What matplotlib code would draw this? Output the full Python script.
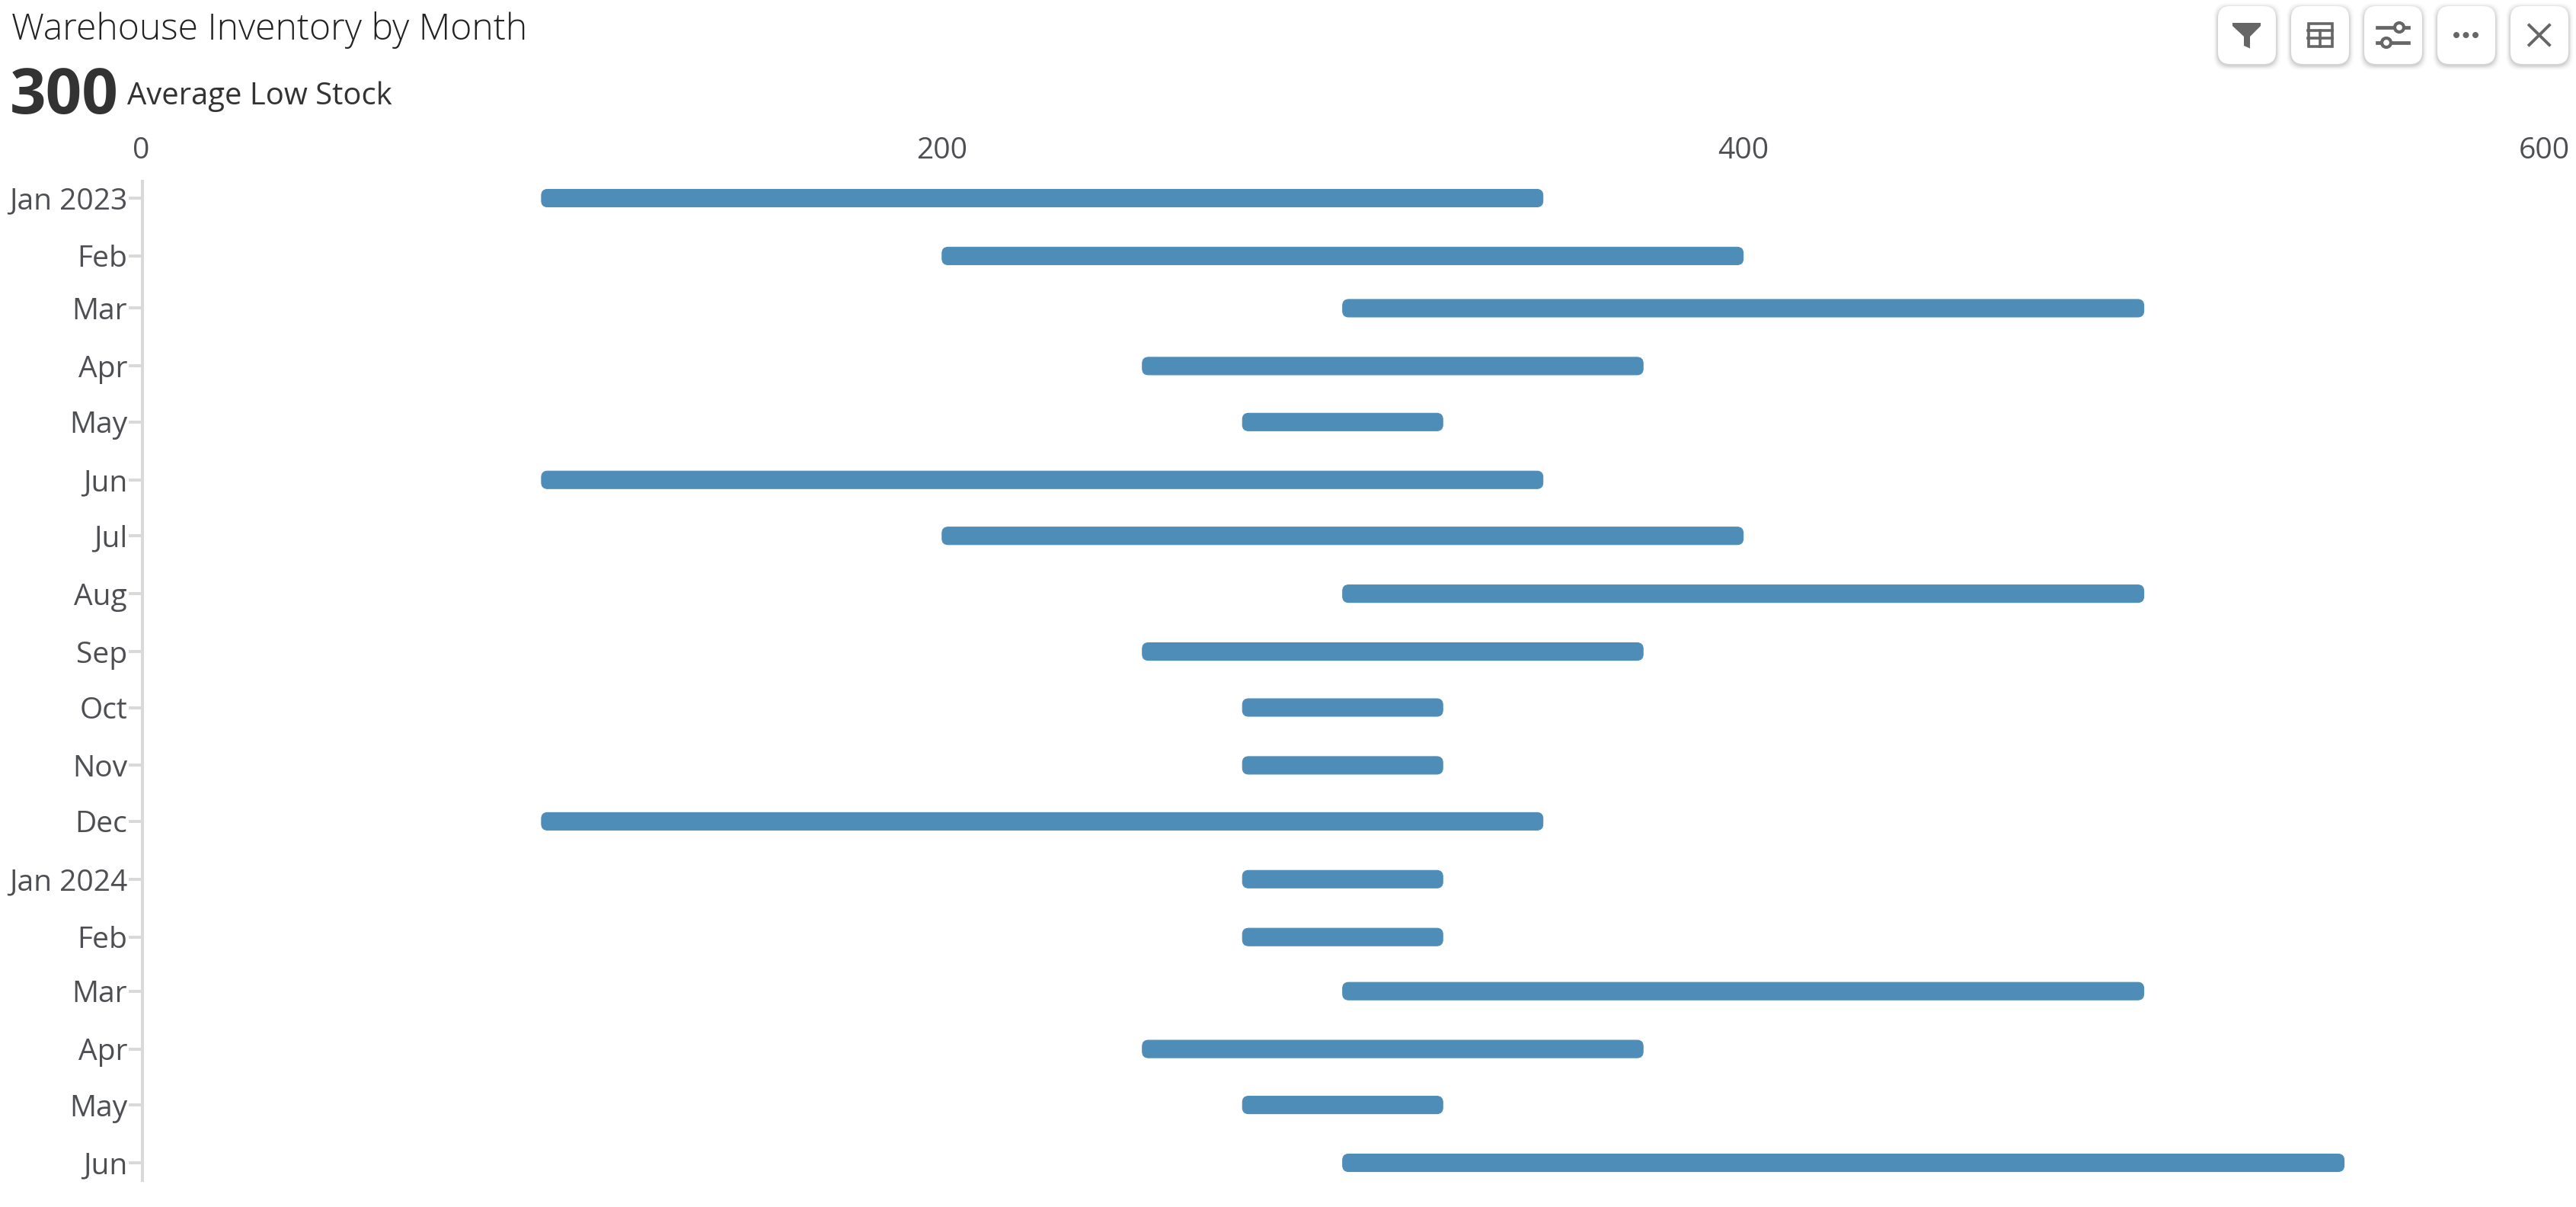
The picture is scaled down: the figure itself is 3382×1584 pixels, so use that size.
import matplotlib
matplotlib.use("Agg")
import matplotlib.pyplot as plt
import matplotlib.dates as mdates
import pandas as pd
from matplotlib.patches import FancyBboxPatch, Polygon, Rectangle, Circle

plt.rcParams['font.family'] = ['Open Sans', 'DejaVu Sans']

month_starts = ["2023-01-01", "2023-02-01", "2023-03-01", "2023-04-01", "2023-05-01", "2023-06-01",
                "2023-07-01", "2023-08-01", "2023-09-01", "2023-10-01", "2023-11-01", "2023-12-01",
                "2024-01-01", "2024-02-01", "2024-03-01", "2024-04-01", "2024-05-01", "2024-06-01"]
months = ["Jan 2023", "Feb", "Mar", "Apr", "May", "Jun", "Jul", "Aug", "Sep", "Oct", "Nov", "Dec",
          "Jan 2024", "Feb", "Mar", "Apr", "May", "Jun"]
low_stock = [100, 200, 300, 250, 275, 100, 200, 300, 250, 275, 275, 100, 275, 275, 300, 250, 275, 300]
high_stock = [350, 400, 500, 375, 325, 350, 400, 500, 375, 325, 325, 350, 325, 325, 500, 375, 325, 550]
x_ticks = [0, 200, 400, 600]

W, H = 3382, 1584
fig = plt.figure(figsize=(W / 100, H / 100), dpi=100, facecolor='white')

ax_l, ax_r, ax_t, ax_b = 185, 3340.5, 238, 1549
ax = fig.add_axes([ax_l / W, 1 - ax_b / H, (ax_r - ax_l) / W, (ax_b - ax_t) / H])
ax.set_xlim(0, 600)
dates = mdates.date2num(pd.to_datetime(month_starts))
yunit = 2.449  # pixels per day
ax.set_ylim(dates[-1] + (ax_b - 1526) / yunit, dates[0] - (260 - ax_t) / yunit)

BAR = "#4f8db9"
bar_h = 23 / yunit
xunit = (ax_r - ax_l) / 600
for d, lo, hi in zip(dates, low_stock, high_stock):
    ax.add_patch(FancyBboxPatch((lo, d - bar_h / 2), hi - lo, bar_h,
                                boxstyle=f"round,pad=0,rounding_size={8 / xunit}",
                                mutation_aspect=xunit / yunit,
                                fc=BAR, ec=BAR, lw=0.8))

ax.xaxis.tick_top()
ax.set_xticks(x_ticks)
ax.set_xticklabels([str(v) for v in x_ticks])
ax.set_yticks(dates)
ax.set_yticklabels(months)
ax.tick_params(axis='x', length=0, pad=15, labelsize=28.1, labelcolor='#4d4f53')
ax.tick_params(axis='y', length=13, width=2.9, color='#d9d9d9', pad=1.2, labelsize=28.1, labelcolor='#4d4f53')
for s in ['top', 'right', 'bottom']:
    ax.spines[s].set_visible(False)
ax.spines['left'].set_color('#d9d9d9')
ax.spines['left'].set_linewidth(2.9)
ax.spines['left'].set_position(('outward', -1.4))

fig.text(15 / W, 1 - 52 / H, "Warehouse Inventory by Month", fontsize=34.7, fontweight='light',
         color='#222222', ha='left', va='baseline')
fig.text(13 / W, 1 - 149 / H, "300", fontsize=60, fontweight='bold',
         color='#333333', ha='left', va='baseline')
fig.text(167 / W, 1 - 137 / H, "Average Low Stock", fontsize=28.8,
         color='#333333', ha='left', va='baseline')

# toolbar overlay in pixel coordinates
ov = fig.add_axes([0, 0, 1, 1], facecolor='none')
ov.set_xlim(0, W)
ov.set_ylim(H, 0)
ov.axis('off')
IC = '#666666'
for left in [2912, 3008, 3104, 3200, 3296]:
    for off, a in [(6, .02), (4.5, .03), (3, .05), (1.5, .07)]:
        ov.add_patch(FancyBboxPatch((left - off, 8 - off + 2), 76 + 2 * off, 76 + 2 * off,
                                    boxstyle="round,pad=0,rounding_size=18", fc='black', ec='none', alpha=a))
    ov.add_patch(FancyBboxPatch((left, 8), 76, 76, boxstyle="round,pad=0,rounding_size=16", fc='white', ec='none'))

# filter
ov.add_patch(Polygon([(2931, 30), (2968, 30), (2968, 34), (2954, 48), (2954, 63.5), (2946, 60), (2946, 48), (2931, 34)],
                     closed=True, fc=IC, ec='none'))
# table
ov.add_patch(Rectangle((3030.5, 30.5), 31, 30, fc='none', ec=IC, lw=2.6))
ov.plot([3030, 3062], [39.5, 39.5], color=IC, lw=2.6)
ov.plot([3030, 3062], [50, 50], color=IC, lw=2.6)
ov.plot([3046, 3046], [39.5, 61], color=IC, lw=2.6)
# sliders
ov.plot([3121, 3162], [36, 36], color=IC, lw=3.4)
ov.plot([3121, 3162], [56, 56], color=IC, lw=3.4)
ov.add_patch(Circle((3150, 36), 6, fc='white', ec=IC, lw=3, zorder=3))
ov.add_patch(Circle((3133, 56), 6, fc='white', ec=IC, lw=3, zorder=3))
# dots
for cx in [3225, 3237.5, 3250]:
    ov.add_patch(Circle((cx, 46), 4, fc=IC, ec='none'))
# close
ov.plot([3320.5, 3347], [33, 59], color=IC, lw=2.8)
ov.plot([3320.5, 3347], [59, 33], color=IC, lw=2.8)

fig.savefig("out.png", dpi=100, facecolor='white')
